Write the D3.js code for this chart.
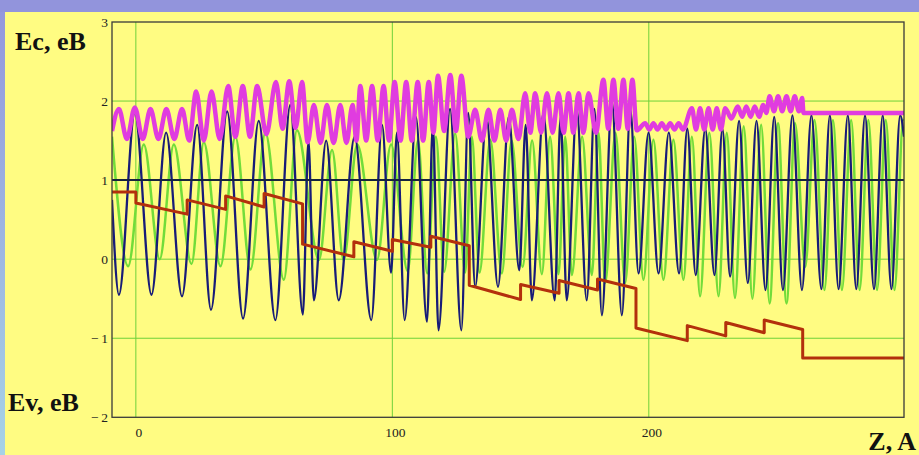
<!DOCTYPE html>
<meta charset="utf-8">
<style>
body { margin: 0; background: #fffc82; }
.tick { font: 13.5px "Liberation Serif", "Times New Roman", serif; fill: #222; }
.title { font: bold 26px "Liberation Serif", "Times New Roman", serif; fill: #111; }
</style>
<body>
<script src="https://d3js.org/d3.v7.min.js"></script>
<script>
// extrema: [Z (A), E (eB)]
var blueZE = [
  [-9.3,0.75],[-6.6,-0.45],[-0.4,1.85],[6.1,-0.45],[11.8,1.6],[18.0,-0.47],[23.9,1.7],[29.3,-0.64],
  [35.6,1.87],[41.8,-0.75],[47.9,1.75],[54.4,-0.77],[60.2,1.95],[65.1,-0.70],[67.3,1.5],[69.4,-0.52],
  [74.2,1.5],[79.1,-0.52],[85.3,1.55],[91.8,-0.77],[96.0,1.7],[99.5,-0.17],[101.8,1.6],[104.8,-0.77],
  [109.2,1.8],[113.5,-0.79],[115.8,1.7],[118.0,-0.90],[122.5,1.9],[126.9,-0.90],[129.6,1.85],[132.3,-0.35],
  [136.7,1.8],[141.2,-0.35],[145.4,1.8],[149.5,-0.14],[152.0,1.7],[154.4,-0.52],[158.9,1.85],[163.3,-0.52],
  [165.6,1.8],[168.0,-0.52],[171.9,1.9],[175.8,-0.52],[178.8,1.9],[181.7,-0.71],[185.6,2.0],[189.5,-0.71],
  [192.8,1.9],[196.0,-0.18],[199.9,1.6],[203.8,-0.18],[207.8,1.6],[211.8,-0.18],[215.0,1.65],[218.3,-0.2],
  [222.0,1.65],[225.6,-0.2],[228.7,1.65],[231.7,-0.22],[235.2,1.75],[238.6,-0.3],[242.0,1.75],[245.5,-0.39],
  [248.9,1.8],[252.3,-0.39],[256.0,1.82],[259.7,-0.39],[263.4,1.82],[267.3,-0.38],[270.6,1.82],[274.0,-0.38],
  [277.6,1.82],[280.9,-0.38],[284.3,1.82],[287.8,-0.38],[291.2,1.82],[294.6,-0.38],[298.0,1.82],[299.5,1.55]
];

var greenZE = [
  [-9.3,1.55],[-3.0,-0.09],[3.1,1.45],[9.3,0.0],[14.8,1.45],[21.7,-0.06],[26.5,1.48],[33.0,-0.09],
  [38.8,1.55],[44.7,-0.13],[50.5,1.6],[57.7,-0.26],[62.8,1.63],[71.4,-0.01],[76.5,1.38],[81.0,-0.01],
  [86.3,1.45],[94.0,-0.01],[99.5,1.45],[106.0,-0.15],[110.0,1.5],[113.6,-0.18],[117.0,1.55],[120.2,-0.16],
  [124.5,1.59],[128.4,-0.17],[131.0,1.55],[134.0,-0.17],[138.2,1.51],[142.7,-0.18],[146.5,1.5],[150.8,-0.1],
  [154.5,1.5],[158.3,-0.19],[161.5,1.55],[164.8,-0.19],[167.4,1.55],[170.0,-0.2],[174.0,1.55],[177.8,-0.2],
  [180.4,1.6],[183.0,-0.3],[187.0,1.6],[190.8,-0.3],[194.3,1.55],[197.9,-0.26],[201.8,1.51],[205.7,-0.26],
  [209.6,1.51],[213.5,-0.26],[216.8,1.55],[220.0,-0.47],[223.6,1.6],[227.2,-0.47],[230.4,1.6],[233.6,-0.49],
  [237.0,1.68],[240.4,-0.5],[243.8,1.7],[247.1,-0.56],[250.4,1.72],[253.7,-0.56],[257.0,1.72],[261.0,-0.1],
  [264.6,1.76],[268.5,-0.39],[271.8,1.76],[275.3,-0.39],[278.9,1.76],[282.2,-0.39],[285.6,1.76],[289.0,-0.39],
  [292.4,1.76],[295.8,-0.39],[299.2,1.76],[299.5,1.75]
];

var magentaZE = [
  [-9.3,1.62],[-6.6,1.9],[-3.5,1.52],[-0.4,1.92],[2.7,1.52],[5.7,1.9],[8.8,1.52],[11.9,1.9],[15.0,1.52],
  [18.0,1.9],[20.8,1.5],[23.5,2.12],[26.5,1.5],[29.5,2.12],[32.7,1.52],[36.0,2.19],[38.8,1.55],[41.7,2.19],
  [44.5,1.55],[47.3,2.19],[50.9,1.58],[54.6,2.24],[57.2,1.65],[59.8,2.25],[62.3,1.66],[64.8,2.24],[67.0,1.48],
  [69.4,1.95],[72.0,1.47],[74.5,1.95],[77.1,1.47],[79.7,1.95],[82.1,1.47],[84.5,1.95],[86.0,1.5],[87.5,2.19],
  [89.8,1.5],[92.1,2.19],[94.3,1.5],[96.6,2.19],[98.7,1.5],[100.9,2.24],[103.2,1.5],[105.4,2.24],[107.6,1.5],
  [109.9,2.24],[112.0,1.5],[114.2,2.24],[116.0,1.6],[117.8,2.32],[120.2,1.62],[122.6,2.33],[124.8,1.62],
  [126.9,2.32],[129.6,1.55],[132.3,1.89],[134.9,1.5],[137.5,1.89],[139.8,1.5],[142.1,1.89],[144.4,1.5],
  [146.6,1.89],[149.2,1.52],[151.8,2.1],[153.8,1.6],[155.7,2.1],[158.0,1.6],[160.3,2.1],[162.5,1.6],
  [164.8,2.1],[166.8,1.6],[168.7,2.1],[170.6,1.6],[172.6,2.1],[174.5,1.6],[176.5,2.1],[179.4,1.6],
  [182.3,2.27],[184.2,1.65],[186.2,2.27],[188.1,1.65],[190.1,2.27],[191.8,1.65],[193.6,2.27],[195.3,1.63],
  [198.6,1.72],[200.2,1.64],[201.8,1.72],[203.4,1.64],[205.1,1.72],[206.7,1.64],[208.3,1.72],[210.0,1.64],
  [211.6,1.72],[213.3,1.64],[216.8,1.91],[218.4,1.64],[220.0,1.91],[221.6,1.64],[223.3,1.91],[224.9,1.64],
  [226.5,1.91],[228.1,1.64],[229.8,1.91],[232.2,1.78],[234.7,1.93],[236.4,1.8],[238.0,1.93],[239.7,1.8],
  [241.3,1.93],[243.0,1.8],[244.6,1.95],[245.8,1.85],[247.1,2.06],[248.8,1.87],[250.4,2.06],[252.0,1.87],
  [253.7,2.06],[255.3,1.87],[256.9,2.06],[258.5,1.87],[259.8,2.04],[260.3,1.85],[299.5,1.85]
];

// red step line: each layer starts at redStart and slides to redEnd
var redBreaks = [0,20,35,50,65,85,100,115,130,150,165,180,195,215,230,245,260];
var redStart = [0.71,0.75,0.80,0.83, 0.19,0.22,0.25,0.29, -0.33,-0.32,-0.27,-0.25, -0.87,-0.84,-0.80,-0.77];
var redEnd   = [0.57,0.63,0.66,0.70, 0.03,0.10,0.15,0.17, -0.51,-0.43,-0.39,-0.37, -1.03,-0.97,-0.93,-0.89];
var redLead = 0.85, redTail = -1.25;

var fermiLevel = 1;
var zDomain = [-9.3, 299.5];
var eDomain = [-2, 3];
var zTicks = [0, 100, 200];
var eTicks = [-2, -1, 0, 1, 2, 3];
var eGrid = [-1, 0, 1, 2];

var W = 919, H = 455;
var plotL = 112, plotR = 904, plotT = 22, plotB = 417.3;

var svg = d3.select("body").append("svg")
    .attr("width", W)
    .attr("height", H);

var defs = svg.append("defs");
var grad = defs.append("linearGradient")
    .attr("id", "edge")
    .attr("x1", 0).attr("y1", 0).attr("x2", 0).attr("y2", 1);
grad.append("stop").attr("offset", "0%").attr("stop-color", "#9496dc");
grad.append("stop").attr("offset", "100%").attr("stop-color", "#a6d2e6");

svg.append("rect").attr("width", W).attr("height", H).attr("fill", "#fffc82");
svg.append("rect").attr("width", 5).attr("height", H).attr("fill", "url(#edge)");
svg.append("rect").attr("width", W).attr("height", 12).attr("fill", "#9294dc");

var x = d3.scaleLinear().domain(zDomain).range([plotL, plotR]);
var y = d3.scaleLinear().domain(eDomain).range([plotB, plotT]);

var clip = defs.append("clipPath").attr("id", "plot");
clip.append("rect")
    .attr("x", plotL).attr("y", plotT)
    .attr("width", plotR - plotL).attr("height", plotB - plotT);

// grid
svg.selectAll(".gx")
    .data(zTicks)
  .enter().append("line")
    .attr("x1", function(d) { return x(d); })
    .attr("x2", function(d) { return x(d); })
    .attr("y1", plotT).attr("y2", plotB)
    .attr("stroke", "#6fd13a").attr("stroke-width", 1);

svg.selectAll(".gy")
    .data(eGrid)
  .enter().append("line")
    .attr("x1", plotL).attr("x2", plotR)
    .attr("y1", function(d) { return y(d); })
    .attr("y2", function(d) { return y(d); })
    .attr("stroke", "#6fd13a").attr("stroke-width", 1);

var line = d3.line()
    .x(function(d) { return x(d[0]); })
    .y(function(d) { return y(d[1]); })
    .curve(d3.curveMonotoneX);

var redPts = [[zDomain[0], redLead], [redBreaks[0], redLead]];
redStart.forEach(function(v, i) {
  redPts.push([redBreaks[i], v]);
  redPts.push([redBreaks[i + 1], redEnd[i]]);
});
redPts.push([redBreaks[redBreaks.length - 1], redTail]);
redPts.push([zDomain[1], redTail]);

var plot = svg.append("g").attr("clip-path", "url(#plot)");

plot.append("path")
    .attr("d", line(greenZE))
    .attr("fill", "none")
    .attr("stroke", "#72dc3a")
    .attr("stroke-width", 2.5);

plot.append("path")
    .attr("d", line(blueZE))
    .attr("fill", "none")
    .attr("stroke", "#181c78")
    .attr("stroke-width", 2.3);

plot.append("path")
    .attr("d", d3.line()
        .x(function(d) { return x(d[0]); })
        .y(function(d) { return y(d[1]); })(redPts))
    .attr("fill", "none")
    .attr("stroke", "#b3300c")
    .attr("stroke-width", 3)
    .attr("stroke-linejoin", "round");

plot.append("line")
    .attr("x1", plotL).attr("x2", plotR)
    .attr("y1", y(fermiLevel)).attr("y2", y(fermiLevel))
    .attr("stroke", "#16243e")
    .attr("stroke-width", 2);

plot.append("path")
    .attr("d", line(magentaZE))
    .attr("fill", "none")
    .attr("stroke", "#e03ce0")
    .attr("stroke-width", 4.5)
    .attr("stroke-linejoin", "round");

// frame
svg.append("rect")
    .attr("x", plotL).attr("y", plotT)
    .attr("width", plotR - plotL).attr("height", plotB - plotT)
    .attr("fill", "none")
    .attr("stroke", "#3a3a3a")
    .attr("stroke-width", 1.3);

// tick labels
svg.selectAll(".ey")
    .data(eTicks)
  .enter().append("text")
    .attr("class", "tick")
    .attr("x", 108)
    .attr("y", function(d) { return y(d) + 5; })
    .attr("text-anchor", "end")
    .text(function(d) { return d < 0 ? "\u2212\u2009" + (-d) : d; });

svg.selectAll(".zx")
    .data(zTicks)
  .enter().append("text")
    .attr("class", "tick")
    .attr("x", function(d) { return x(d) + 3; })
    .attr("y", 437)
    .attr("text-anchor", "middle")
    .text(function(d) { return d; });

svg.append("text").attr("class", "title").attr("x", 15).attr("y", 50).text("Ec, eB");
svg.append("text").attr("class", "title").attr("x", 8).attr("y", 411).text("Ev, eB");
svg.append("text").attr("class", "title").attr("x", 916).attr("y", 450)
    .attr("text-anchor", "end").text("Z, A");
</script>
